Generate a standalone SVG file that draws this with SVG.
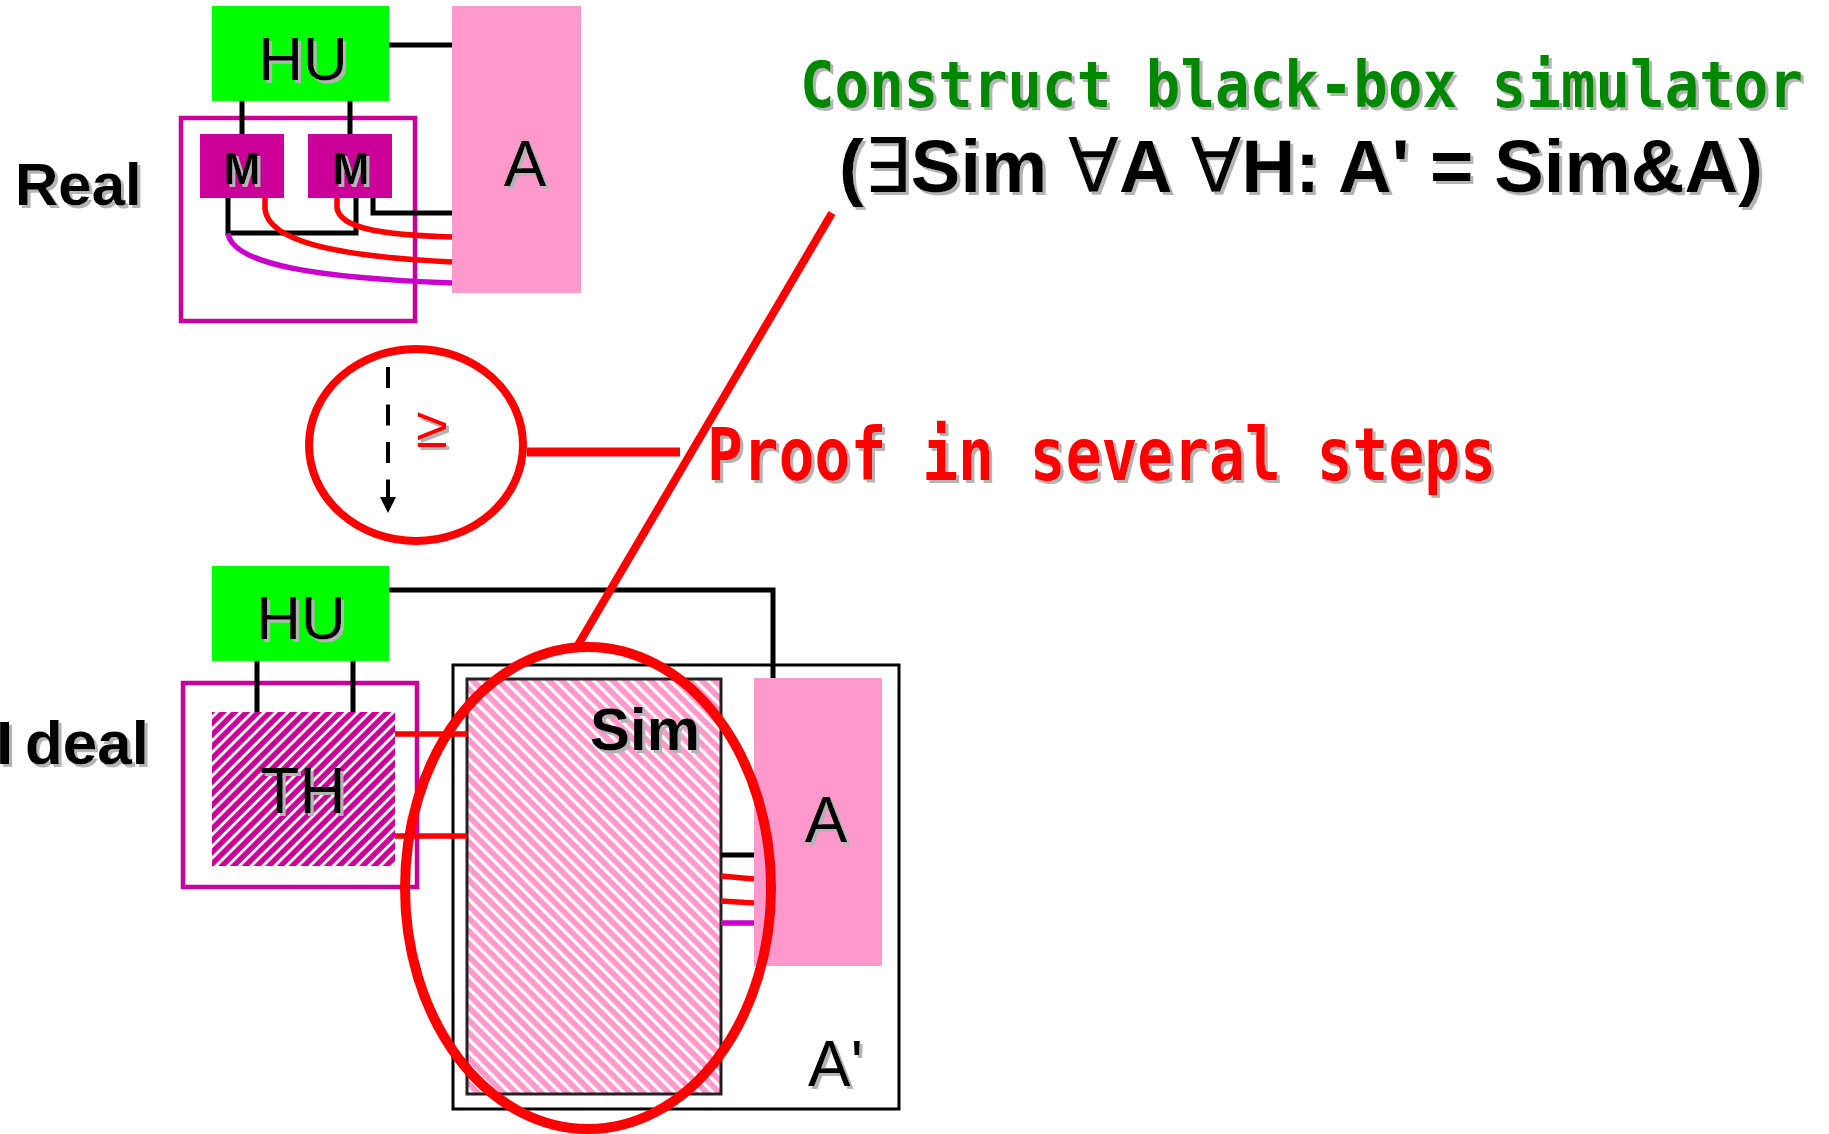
<svg xmlns="http://www.w3.org/2000/svg" width="1829" height="1134" viewBox="0 0 1829 1134">
<defs>
<style>
.t{font-family:"Liberation Sans",Arial,sans-serif;fill:#000;filter:url(#sh)}
.b{font-weight:bold}
.mono{font-family:"DejaVu Sans Mono","Liberation Mono",monospace;font-weight:bold;filter:url(#sh)}
.ln{fill:none;stroke:#000;stroke-width:5}
.rd{fill:none;stroke:#ff0000;stroke-width:5.5}
.mg{fill:none;stroke:#cc00cc;stroke-width:5.5}
.green{fill:#00ff00}
.pink{fill:#ff99cc}
.mbox{fill:#cc0099}
.frame{fill:none;stroke:#cc0099;stroke-width:4.5}
.big{fill:none;stroke:#ff0000}
.sym{font-weight:normal;font-family:"DejaVu Sans",sans-serif}
</style>
<filter id="sh" x="-5%" y="-10%" width="115%" height="130%">
<feOffset in="SourceAlpha" dx="3" dy="3" result="o"/>
<feFlood flood-color="#b4b4b4"/>
<feComposite in2="o" operator="in" result="s"/>
<feMerge><feMergeNode in="s"/><feMergeNode in="SourceGraphic"/></feMerge>
</filter>
<pattern id="thHatch" width="8.3" height="8.3" patternUnits="userSpaceOnUse" patternTransform="rotate(45)">
<rect width="8.3" height="8.3" fill="#cc0099"/>
<rect width="2.9" height="8.3" fill="#ffffff"/>
</pattern>
<pattern id="simHatch" width="9" height="9" patternUnits="userSpaceOnUse" patternTransform="rotate(-45)">
<rect width="9" height="9" fill="#ff99cc"/>
<rect width="3.2" height="9" fill="#ffffff"/>
</pattern>
<marker id="arr" markerWidth="16" markerHeight="16" refX="0" refY="0" orient="auto" markerUnits="userSpaceOnUse" viewBox="-16 -8 16 16">
<path d="M0,0 L-16,-8 L-16,8 Z" fill="#000"/>
</marker>
</defs>

<!-- Real world -->
<g id="real-label"><text class="t b" x="15" y="205" font-size="60">Real</text></g>
<g id="real-frame"><rect class="frame" x="181" y="118" width="234" height="203"/></g>
<g id="real-HU"><rect class="green" x="212" y="6" width="177" height="95"/><text class="t" x="303" y="80" font-size="62" text-anchor="middle">HU</text></g>
<g id="real-A"><rect class="pink" x="452" y="6" width="129" height="287"/><text class="t" x="525" y="186" font-size="64" text-anchor="middle">A</text></g>
<g id="real-M1"><rect class="mbox" x="200" y="134" width="84" height="64"/><text class="t b" x="242" y="184" font-size="44" text-anchor="middle">M</text></g>
<g id="real-M2"><rect class="mbox" x="308" y="134" width="84" height="64"/><text class="t b" x="351" y="184" font-size="44" text-anchor="middle">M</text></g>

<!-- Ideal world -->
<g id="ideal-label"><text class="t b" x="-4 25" y="764" font-size="62">Ideal</text></g>
<g id="ideal-frame"><rect class="frame" x="183" y="683" width="234" height="204"/></g>
<g id="ideal-HU"><rect class="green" x="212" y="566" width="177" height="95"/><text class="t" x="301" y="639" font-size="62" text-anchor="middle">HU</text></g>
<g id="TH"><rect x="212" y="712" width="183" height="154" fill="url(#thHatch)"/><text class="t" x="303" y="813" font-size="64" text-anchor="middle">TH</text></g>
<g id="A-prime"><rect x="453" y="665" width="446" height="444" fill="none" stroke="#000" stroke-width="3"/><text class="t" x="808" y="1086" font-size="64">A'</text></g>
<g id="Sim"><rect x="467" y="679" width="254" height="415" fill="url(#simHatch)" stroke="#222" stroke-width="3"/><text class="t b" x="590" y="750" font-size="60">Sim</text></g>
<g id="ideal-A"><rect class="pink" x="754" y="678" width="128" height="288"/><text class="t" x="826" y="842" font-size="64" text-anchor="middle">A</text></g>

<!-- connectors -->
<g id="connectors">
<path class="ln" d="M389,45 H452"/>
<path class="ln" d="M242,101 V134 M350,101 V134"/>
<path class="ln" d="M228,198 V233 H356 V198"/>
<path class="ln" d="M373,198 V213 H452"/>
<path class="rd" d="M265,198 V209 C268,240 330,256 452,262"/>
<path class="rd" d="M337,198 V208 C340,228 380,235 452,237"/>
<path class="mg" d="M228,233 C232,265 320,278 452,283"/>

<path class="ln" d="M389,590 H773 V678"/>
<path class="ln" d="M257,661 V712 M353,661 V712"/>
<path class="rd" d="M395,734 H467 M395,836 H467"/>
<path class="ln" d="M721,855 H754"/>
<path class="rd" d="M721,876 L754,879 M721,901 L754,903"/>
<path class="mg" d="M721,923 H754"/>

<path d="M388,367 V513" fill="none" stroke="#000" stroke-width="4" stroke-dasharray="21 16.5" marker-end="url(#arr)"/>
</g>

<!-- annotations -->
<g id="step-circle">
<ellipse class="big" cx="416" cy="445" rx="107" ry="96" stroke-width="8"/>
<text x="432" y="447" font-family="Liberation Sans,DejaVu Sans,sans-serif" font-size="58" fill="#ff0000" text-anchor="middle" filter="url(#sh)">≥</text>
<path d="M527,452 H680" stroke="#ff0000" stroke-width="9" fill="none"/>
</g>
<g id="sim-ellipse">
<ellipse class="big" cx="588" cy="888" rx="183" ry="241" stroke-width="10"/>
<path d="M578,645 L832,213" stroke="#ff0000" stroke-width="8" fill="none"/>
</g>
<g id="proof-label"><text class="mono" x="707" y="480" font-size="73" fill="#ff0000" textLength="789" lengthAdjust="spacingAndGlyphs">Proof in several steps</text></g>
<g id="title">
<text class="mono" transform="translate(800,107) scale(1,1.12)" x="0" y="0" font-size="58" fill="#008800" textLength="1003" lengthAdjust="spacingAndGlyphs">Construct black-box simulator</text>
<text class="t b" x="839" y="192" font-size="75" textLength="924" lengthAdjust="spacingAndGlyphs">(<tspan class="sym">∃</tspan>Sim <tspan class="sym">∀</tspan>A <tspan class="sym">∀</tspan>H: A' = Sim&amp;A)</text>
</g>
</svg>
